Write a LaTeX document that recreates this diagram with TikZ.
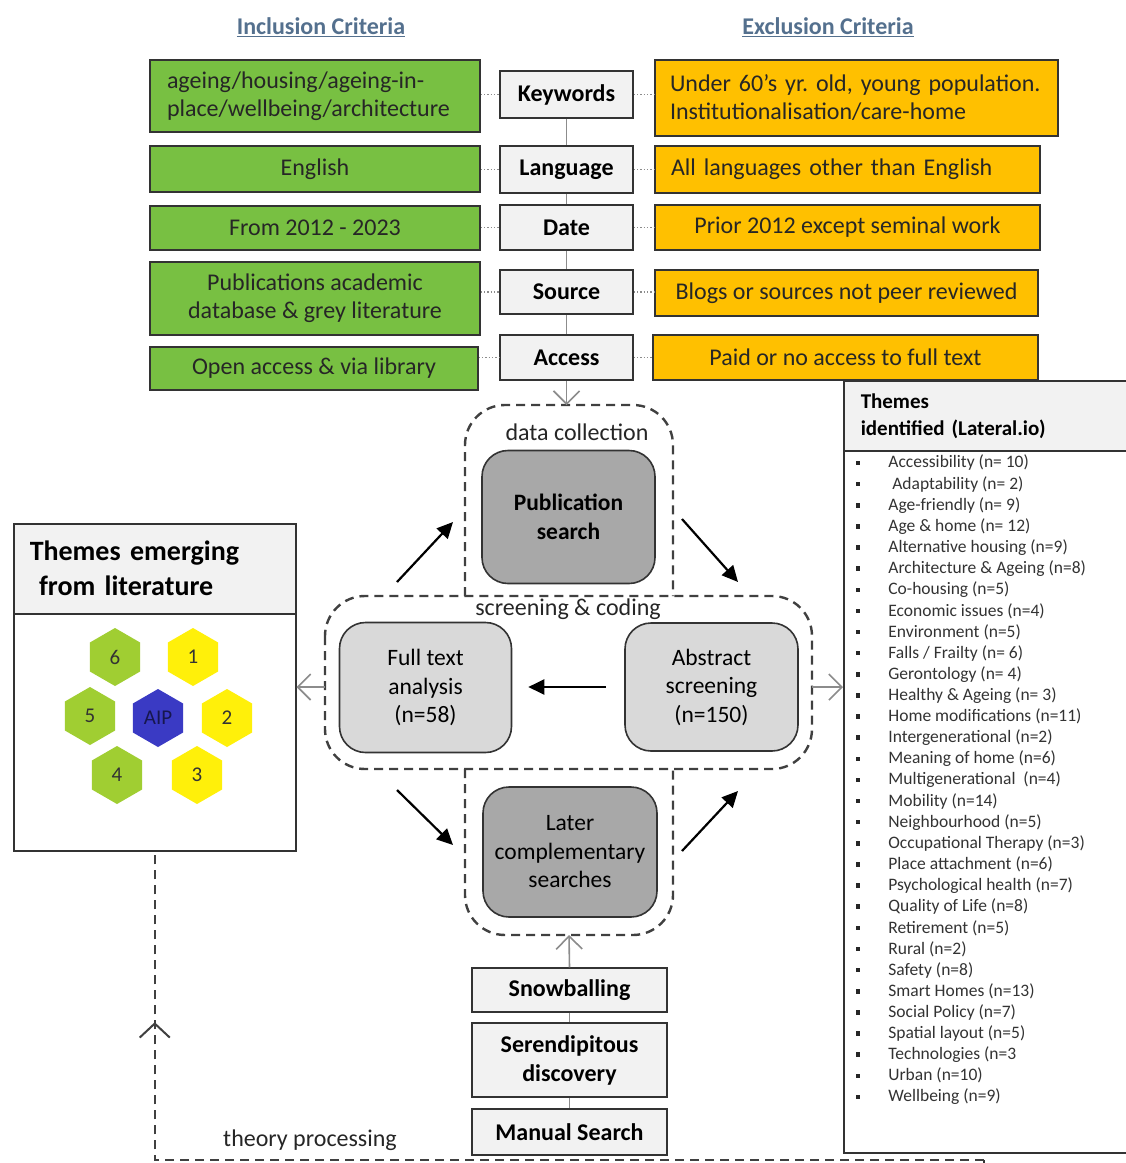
\documentclass[tikz,border=0pt]{standalone}
\usepackage{fontspec}
\setmainfont{Carlito}
\frenchspacing
\usetikzlibrary{arrows.meta, shapes.geometric, decorations.markings}

\definecolor{inclgreen}{RGB}{120,192,66}
\definecolor{exclorange}{RGB}{255,192,0}
\definecolor{critgray}{RGB}{242,242,242}
\definecolor{stagedark}{RGB}{168,168,168}
\definecolor{stagelight}{RGB}{217,217,217}
\definecolor{titleblue}{RGB}{84,112,142}
\definecolor{hexgreen}{RGB}{160,206,50}
\definecolor{hexyellow}{RGB}{255,240,10}
\definecolor{hexblue}{RGB}{58,58,196}

\newcommand{\boxfont}{\fontsize{24}{28}\selectfont}
\newcommand{\stagefont}{\fontsize{23.5}{28.5}\selectfont}

\begin{document}
\begin{tikzpicture}[x=1pt, y=-1pt, thick,
    title/.style={font=\fontsize{24}{28}\selectfont\bfseries, text=titleblue},
    inbox/.style={draw=black!80, line width=1.5pt, fill=inclgreen, minimum width=330pt, text=black!85, font=\boxfont, align=center, inner sep=0pt},
    crbox/.style={draw=black!80, line width=1.5pt, fill=critgray, minimum width=133pt, font=\boxfont\bfseries, inner sep=0pt},
    exbox/.style={draw=black!80, line width=1.5pt, fill=exclorange, minimum width=385pt, text=black!85, font=\boxfont, align=center, inner sep=0pt},
    dotlink/.style={black!45, line width=1.3pt, dotted},
    spine/.style={black!45, line width=1.6pt},
    openarrow/.style={black!45, line width=1.6pt, -{Straight Barb[length=13pt, width=26pt]}},
    flow/.style={black, line width=2.2pt, -{Triangle[length=16pt, width=15pt]}},
    stage/.style={black!75, line width=2.4pt, dash pattern=on 9pt off 6pt},
    stagelabel/.style={font=\fontsize{24}{28}\selectfont, text=black!85},
    darkstage/.style={draw=black!80, line width=1.6pt, fill=stagedark, rounded corners=26pt, minimum width=173pt, minimum height=132pt, align=center, font=\stagefont\bfseries},
    lightstage/.style={draw=black!80, line width=1.6pt, fill=stagelight, rounded corners=26pt, minimum width=172pt, minimum height=130pt, align=center, font=\stagefont},
    searchbox/.style={draw=black!80, line width=1.5pt, fill=critgray, minimum width=195pt, align=center, font=\fontsize{24}{29}\selectfont\bfseries, inner sep=0pt},
    panelhead/.style={draw=black!80, line width=1.5pt, fill=critgray, anchor=north west, align=left, inner ysep=0pt},
    panelbody/.style={draw=black!80, line width=1.5pt, fill=white, anchor=north west},
    hexa/.style={regular polygon, regular polygon sides=6, shape border rotate=30, minimum size=58pt, inner sep=0pt, font=\fontsize{21}{24}\selectfont, text=black!80},
    themedot/.style={fill=black!85, minimum size=4.5pt, inner sep=0pt},
    themeitem/.style={anchor=west, inner sep=0pt, font=\fontsize{17.5}{20}\selectfont, text=black!80}]

    \useasboundingbox (0,0) rectangle (1126,1163);
    \fill[white] (0,0) rectangle (1126,1163);

    % titles
    \node[title] (inTitle) at (321,27) {\underline{Inclusion Criteria}};
    \node[title] (exTitle) at (828,27) {\underline{Exclusion Criteria}};

    % inclusion criteria
    \node[inbox, minimum height=72pt, text width=296pt, inner xsep=17pt, align=left] (inKey) at (315,96) {ageing/housing/ageing-in-\\place/wellbeing/architecture};
    \node[inbox, minimum height=46pt] (inLang) at (315,169) {English};
    \node[inbox, minimum height=44pt] (inDate) at (315,228) {From 2012 - 2023};
    \node[inbox, minimum height=73pt] (inSrc) at (315,298.5) {Publications academic\\database \& grey literature};
    \node[inbox, minimum height=43pt, minimum width=328pt] (inAcc) at (314,368.5) {Open access \& via library};

    % criteria
    \node[crbox, minimum height=47pt] (crKey) at (566.5,94.5) {Keywords};
    \node[crbox, minimum height=47pt] (crLang) at (566.5,169.5) {Language};
    \node[crbox, minimum height=45pt] (crDate) at (566.5,227.5) {Date};
    \node[crbox, minimum height=44pt] (crSrc) at (566.5,292) {Source};
    \node[crbox, minimum height=45pt] (crAcc) at (566.5,357.5) {Access};

    % exclusion criteria
    \node[exbox, minimum height=76pt, minimum width=403pt, text width=373pt, inner xsep=15pt, align=left] (exKey) at (856.5,98) {Under 60’s yr. old, young population.\\Institutionalisation/care-home};
    \node[exbox, minimum height=47pt, text width=353pt, inner xsep=16pt, align=left] (exLang) at (847.5,169.5) {All languages other than English};
    \node[exbox, minimum height=45pt] (exDate) at (847.5,227.5) {Prior 2012 except seminal work};
    \node[exbox, minimum height=46pt, minimum width=383pt] (exSrc) at (846.5,293) {Blogs or sources not peer reviewed};
    \node[exbox, minimum height=45pt] (exAcc) at (845.5,357.5) {Paid or no access to full text};

    % dotted links
    \foreach \row in {Key, Lang, Date, Src, Acc} {
        \draw[dotlink] (cr\row.west -| in\row.east) -- (cr\row.west);
        \draw[dotlink] (cr\row.east) -- (cr\row.east -| ex\row.west);
    }
    \draw[spine] (crKey) -- (crLang) -- (crDate) -- (crSrc) -- (crAcc);

    % stages
    \coordinate (dcTop) at (566.5,405);
    \coordinate (scLeft) at (325,687);
    \coordinate (scRight) at (812,687);
    \coordinate (lcBot) at (569,935);
    \draw[stage, rounded corners=40pt] (465,596) -- (465,405) -- (673,405) -- (673,596);
    \draw[stage, rounded corners=40pt] (325,596) rectangle (812,769);
    \draw[stage, rounded corners=40pt] (465,769) -- (465,935) -- (673,935) -- (673,769);
    \node[stagelabel] (dcLabel) at (577,432) {data collection};
    \node[stagelabel] (scLabel) at (568,609) {screening \& coding};
    \draw[openarrow] (crAcc.south) -- (dcTop);

    \node[darkstage, minimum height=133pt] (pub) at (568.5,517) {Publication\\search};
    \node[lightstage] (full) at (425.5,687.5) {Full text\\analysis\\(n=58)};
    \node[lightstage, minimum width=173pt, minimum height=128pt] (abs) at (711.5,687) {Abstract\\screening\\(n=150)};
    \node[darkstage, minimum width=174pt, minimum height=130pt, font=\stagefont] (later) at (570,852) {Later\\complementary\\searches};

    % flow arrows
    \coordinate (f1s) at (397,582); \coordinate (f1e) at (453,522);
    \coordinate (f2s) at (682,519); \coordinate (f2e) at (738,582);
    \coordinate (f3s) at (397,790); \coordinate (f3e) at (453,845);
    \coordinate (f4s) at (682,851); \coordinate (f4e) at (738,791);
    \draw[flow] (f1s) -- (f1e);
    \draw[flow] (f2s) -- (f2e);
    \draw[flow, shorten <=18pt, shorten >=16pt] (abs.west) -- (abs.west -| full.east);
    \draw[flow] (f3s) -- (f3e);
    \draw[flow] (f4s) -- (f4e);

    % searches
    \node[searchbox, minimum height=44pt] (snow) at (569.5,990) {Snowballing};
    \node[searchbox, minimum height=74pt] (seren) at (569.5,1060) {Serendipitous\\discovery};
    \node[searchbox, minimum height=46pt] (manual) at (569.5,1132) {Manual Search};
    \draw[spine, line width=1.2pt] (snow) -- (seren) -- (manual);
    \draw[openarrow] (snow.north) -- (lcBot);

    % themes emerging from literature
    \node[panelhead, minimum width=282pt, minimum height=90pt, text width=250pt, inner xsep=16pt, font=\fontsize{28}{35}\selectfont\bfseries] (lpHead) at (13,523) {Themes emerging\\\ from literature};
    \node[panelbody, minimum width=282pt, minimum height=237pt] (lpBody) at (13,613) {};
    \node[hexa, fill=hexgreen] (hex6) at (115,657) {6};
    \node[hexa, fill=hexyellow] (hex1) at (193,657) {1};
    \node[hexa, fill=hexgreen] (hex5) at (90,716) {5};
    \node[hexa, fill=hexblue, text=hexblue!40!black] (hexAIP) at (158,718) {AIP};
    \node[hexa, fill=hexyellow] (hex2) at (227,718) {2};
    \node[hexa, fill=hexgreen] (hex4) at (117,775) {4};
    \node[hexa, fill=hexyellow] (hex3) at (197,775) {3};
    \draw[openarrow] (scLeft) -- (scLeft -| lpBody.east);

    % themes identified
    \node[panelhead, minimum width=300pt, minimum height=70pt, text width=266pt, inner xsep=17pt, font=\fontsize{21}{27}\selectfont\bfseries] (thHead) at (843,380) {Themes\\identified (Lateral.io)};
    \node[panelbody, minimum width=300pt, minimum height=702pt] (thBody) at (843,450) {};
    \draw[openarrow] (scRight) -- (scRight -| thBody.west);
    \foreach \theme [count=\i from 0] in {Accessibility (n= 10), \ Adaptability (n= 2), Age-friendly (n= 9), Age \& home (n= 12),
        Alternative housing (n=9), Architecture \& Ageing (n=8), Co-housing (n=5), Economic issues (n=4),
        Environment (n=5), Falls / Frailty (n= 6), Gerontology (n= 4), Healthy \& Ageing (n= 3),
        Home modifications (n=11), Intergenerational (n=2), Meaning of home (n=6), Multigenerational\ \ (n=4),
        Mobility (n=14), Neighbourhood (n=5), Occupational Therapy (n=3), Place attachment (n=6),
        Psychological health (n=7), Quality of Life (n=8), Retirement (n=5), Rural (n=2),
        Safety (n=8), Smart Homes (n=13), Social Policy (n=7), Spatial layout (n=5),
        Technologies (n=3, Urban (n=10), Wellbeing (n=9)} {
        \node[themedot] (dot\i) at (858, 463+21.13*\i) {};
        \node[themeitem] (th\i) at (888, 463+21.13*\i) {\theme};
    }

    % theory processing
    \coordinate (tpStart) at (984,1160);
    \draw[black!80, line width=1.5pt] (tpStart) -- ++(0,15);
    \draw[stage, line width=2pt, decoration={markings, mark=at position 0.85 with {\arrow{Straight Barb[length=14pt, width=30pt]}}}, postaction={decorate}] (tpStart) -| (lpBody.south);
    \node[stagelabel] (tpLabel) at (310,1140) {theory processing};
\end{tikzpicture}
\end{document}
